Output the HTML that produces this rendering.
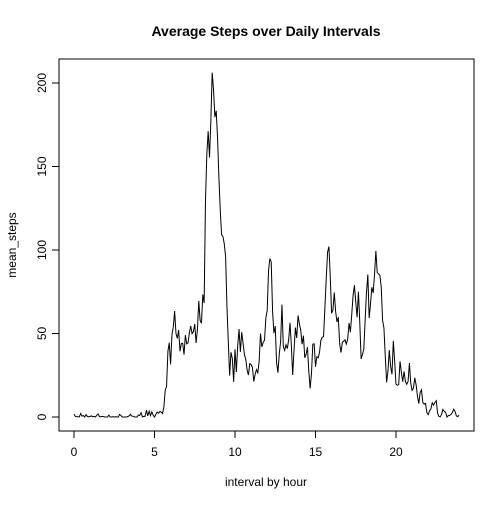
<!DOCTYPE html>
<html><head><meta charset="utf-8"><style>
body{margin:0;background:#fff}
svg text{font-family:"Liberation Sans",Arial,sans-serif}
</style></head><body>
<svg id="chart" width="504" height="504" viewBox="0 0 504 504">
<rect width="504" height="504" fill="#fff"/>
<text x="266" y="36" text-anchor="middle" font-size="14" font-weight="bold">Average Steps over Daily Intervals</text>
<rect x="59" y="59" width="415" height="372" fill="none" stroke="#000"/>
<g id="axes"></g>
<path id="series" fill="none" stroke="#000" stroke-width="1"/>
<text x="266" y="486" text-anchor="middle" font-size="12">interval by hour</text>
<text transform="translate(16,245) rotate(-90)" text-anchor="middle" font-size="12">mean_steps</text>
</svg>
<script>
const meanSteps=[1.72,0.34,0.13,0.15,0.08,2.09,0.53,0.87,0,1.47,0.30,0.13,0.32,0.68,0.15,0.34,0,1.11,1.83,0.17,0.17,0.38,0.26,0,0,0,1.13,0,0,0.13,0,0.23,0,0,1.55,0.94,0,0,0,0,0.21,0.62,1.62,0.58,0.49,0.08,0,0,1.19,0.94,2.57,0,0.34,0.36,4.11,0.66,3.49,0.83,3.11,1.11,0,1.57,3.0,2.25,3.32,2.96,2.09,6.06,16.02,18.34,39.45,44.49,31.49,49.26,53.77,63.45,49.96,47.08,52.15,39.34,44.02,44.17,37.36,49.04,43.81,44.38,50.51,54.51,49.92,50.98,55.68,44.32,52.26,69.55,57.85,56.15,73.38,68.21,129.43,157.53,171.15,155.40,177.30,206.17,195.92,179.57,183.40,167.02,143.45,124.04,109.11,108.11,103.72,95.96,66.21,45.23,24.79,38.75,34.98,21.06,40.57,26.98,42.42,52.66,38.92,50.79,44.28,37.42,34.70,28.34,25.09,31.94,31.36,29.68,21.32,25.55,28.38,26.47,33.43,49.98,42.04,44.60,46.04,59.19,63.87,87.70,94.85,92.77,63.40,50.17,54.47,32.42,26.53,37.74,45.06,67.28,42.34,39.89,43.26,40.98,46.25,56.43,42.75,25.13,39.96,53.55,47.32,60.81,55.75,51.96,43.58,48.70,35.47,37.55,41.85,27.51,17.11,26.08,43.62,43.77,30.02,36.08,35.49,38.85,45.96,47.75,48.13,65.32,82.91,98.66,102.11,83.96,62.13,64.13,74.55,63.17,56.91,59.77,43.87,38.57,44.66,45.45,46.21,43.68,46.62,56.30,50.72,61.23,72.72,78.94,68.94,59.66,75.09,56.51,34.77,37.45,40.68,58.02,74.70,85.32,59.26,67.77,77.70,74.25,85.34,99.45,86.58,85.60,84.87,77.83,58.04,53.36,36.32,20.72,27.40,40.02,30.21,25.55,45.66,33.53,19.62,19.02,19.34,33.34,26.81,21.17,27.30,21.34,19.55,21.32,32.30,20.15,15.94,17.23,23.45,19.25,12.45,8.02,14.66,16.30,8.68,7.79,8.13,2.62,1.45,3.68,4.81,8.51,7.08,8.70,9.75,2.21,0.32,0.11,1.60,4.60,3.30,2.85,0,0.83,0.96,1.58,2.60,4.70,3.30,0.64,0.23,1.08];
const xTicks=[0,5,10,15,20];
const yTicks=[0,50,100,150,200];
const xs=h=>74+h*16.1;
const ys=v=>417-v*1.67;
const ns="http://www.w3.org/2000/svg";
const axes=document.getElementById('axes');
function mk(tag,attrs,txt){const e=document.createElementNS(ns,tag);for(const k in attrs)e.setAttribute(k,attrs[k]);if(txt!==undefined)e.textContent=txt;axes.appendChild(e);return e;}
let l=mk('line',{x1:xs(0),x2:xs(20),y1:431,y2:431,stroke:'#000'});


xTicks.forEach(t=>{
 const tk=mk('line',{x1:xs(t),x2:xs(t),y1:431,y2:438,stroke:'#000'});
 
 
 const tx=mk('text',{x:xs(t),y:456,'text-anchor':'middle','font-size':12},String(t));
 
 
});
l=mk('line',{x1:59,x2:59,y1:ys(0),y2:ys(200),stroke:'#000'});


yTicks.forEach(t=>{
 const tk=mk('line',{x1:52,x2:59,y1:ys(t),y2:ys(t),stroke:'#000'});
 
 
 const tx=mk('text',{transform:`translate(46,${ys(t)}) rotate(-90)`,'text-anchor':'middle','font-size':12},String(t));
 
 
});
document.getElementById('series').setAttribute('d',meanSteps.map((v,i)=>(i?'L':'M')+xs(i/12).toFixed(2)+','+ys(v).toFixed(2)).join(''));
</script>
</body></html>
